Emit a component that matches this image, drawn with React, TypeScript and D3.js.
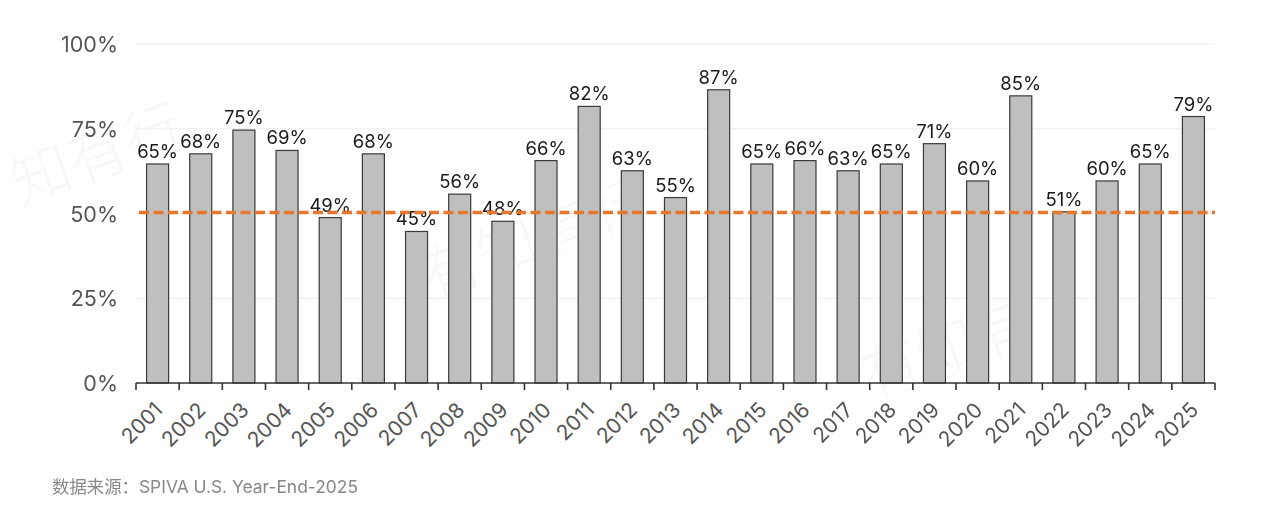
import * as d3 from 'd3';

const years = [
  '2001', '2002', '2003', '2004', '2005', '2006', '2007', '2008', '2009', '2010',
  '2011', '2012', '2013', '2014', '2015', '2016', '2017', '2018', '2019', '2020',
  '2021', '2022', '2023', '2024', '2025',
];

// share of active funds underperforming, %
const values = [
  64.6, 67.6, 74.6, 68.6, 48.8, 67.6, 44.7, 55.7, 47.7, 65.6,
  81.6, 62.6, 54.7, 86.5, 64.6, 65.6, 62.6, 64.6, 70.6, 59.6,
  84.7, 50.5, 59.6, 64.6, 78.6,
];

const labels = [
  '65%', '68%', '75%', '69%', '49%', '68%', '45%', '56%', '48%', '66%',
  '82%', '63%', '55%', '87%', '65%', '66%', '63%', '65%', '71%', '60%',
  '85%', '51%', '60%', '65%', '79%',
];

const yTicks = [0, 25, 50, 75, 100];
const threshold = 50;
const source = '数据来源：SPIVA U.S. Year-End-2025';

const W = 1280;
const H = 524;
const margin = { left: 136, right: 65, top: 44, bottom: 141 };
const font = 'Inter, "Noto Sans CJK SC", sans-serif';

export default function App() {
  const x = d3
    .scaleBand<string>()
    .domain(years)
    .range([margin.left, W - margin.right])
    .paddingInner(0.49)
    .paddingOuter(0.245);
  const y = d3
    .scaleLinear()
    .domain([0, 100])
    .range([H - margin.bottom, margin.top]);

  const step = x.step();
  const x0 = margin.left;
  const x1 = W - margin.right;
  const boundaries = d3.range(years.length + 1).map((i) => x0 + i * step);

  return (
    <svg
      width={W}
      height={H}
      style={{ position: 'absolute', top: 0, left: 0, background: '#fff' }}
      fontFamily={font}
    >
      {/* faint watermark */}
      <g fill="#000" opacity={0.03} fontSize={60} fontWeight={300}>
        <text transform="translate(20,205) rotate(-20)">知有行</text>
        <text transform="translate(430,300) rotate(-20)">有知有行</text>
        <text transform="translate(870,400) rotate(-20)">有知有</text>
      </g>

      {/* grid */}
      {yTicks
        .filter((t) => t > 0)
        .map((t) => (
          <line key={t} x1={x0} x2={x1} y1={y(t)} y2={y(t)} stroke="#ececec" strokeWidth={1} />
        ))}

      {/* y labels */}
      {yTicks.map((t) => (
        <text
          key={t}
          x={118}
          y={y(t)}
          textAnchor="end"
          dominantBaseline="central"
          fontSize={21.5}
          fill="#555"
        >
          {t}%
        </text>
      ))}

      {/* bars */}
      {years.map((yr, i) => (
        <rect
          key={yr}
          x={x(yr)}
          y={y(values[i])}
          width={x.bandwidth()}
          height={y(0) - y(values[i])}
          fill="#bfbfbf"
          stroke="#3a3a3a"
          strokeWidth={1.2}
        />
      ))}

      {/* value labels */}
      {years.map((yr, i) => (
        <text
          key={yr}
          x={(x(yr) ?? 0) + x.bandwidth() / 2}
          y={y(values[i]) - 6}
          textAnchor="middle"
          fontSize={18.5}
          fill="#1a1a1a"
        >
          {labels[i]}
        </text>
      ))}

      {/* x axis */}
      <line x1={x0} x2={x1} y1={y(0)} y2={y(0)} stroke="#333" strokeWidth={1.6} />
      {boundaries.map((b, i) => (
        <line key={i} x1={b} x2={b} y1={y(0)} y2={y(0) + 7} stroke="#333" strokeWidth={1.6} />
      ))}
      {years.map((yr) => {
        const cx = (x(yr) ?? 0) + x.bandwidth() / 2 - 5;
        const cy = y(0) + 17;
        return (
          <text
            key={yr}
            transform={`translate(${cx},${cy}) rotate(-45)`}
            textAnchor="end"
            dominantBaseline="hanging"
            fontSize={21}
            fill="#555"
          >
            {yr}
          </text>
        );
      })}

      {/* 50% reference */}
      <line
        x1={x0 + 3}
        x2={x1}
        y1={y(threshold) - 1}
        y2={y(threshold) - 1}
        stroke="#e8772e"
        strokeWidth={3.6}
        strokeDasharray="10 4.5"
      />

      <text x={52} y={493} fontSize={17.4} fill="#888">
        {source}
      </text>
    </svg>
  );
}
